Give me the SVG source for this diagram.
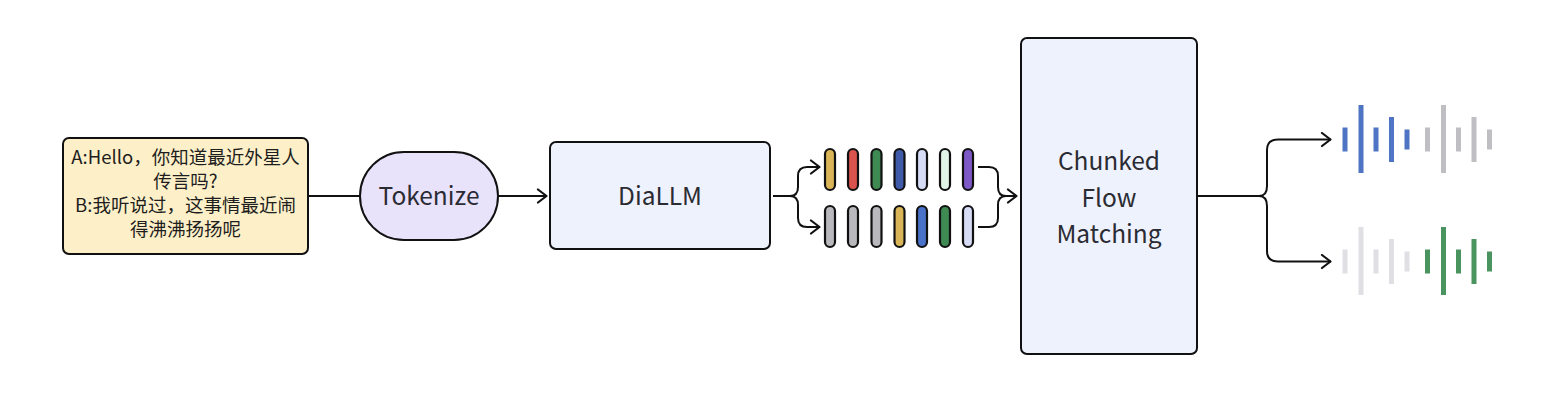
<svg xmlns="http://www.w3.org/2000/svg" width="1552" height="416" viewBox="0 0 1552 416">
<defs>
<marker id="arr" viewBox="0 0 12 16" refX="11" refY="8" markerWidth="12" markerHeight="16" markerUnits="userSpaceOnUse" orient="auto">
<path d="M2,1.5 L10.5,8 L2,14.5" fill="none" stroke="#111" stroke-width="2.2" stroke-linecap="round" stroke-linejoin="round"/>
</marker>
<style>
.node{stroke:#111;stroke-width:2}
.lbl{font-family:"Noto Sans CJK SC","Noto Sans",sans-serif;fill:#2b2b33;text-anchor:middle}
.big{font-size:24.5px}
.cn{font-size:18.5px;fill:#1e1e1e}
.conn{fill:none;stroke:#111;stroke-width:2;stroke-linejoin:round}
.tok{stroke:#111;stroke-width:2.2}
</style>
</defs>
<rect width="1552" height="416" fill="#ffffff"/>

<g id="connectors">
<path class="conn" d="M308,196 H360"/>
<path class="conn" d="M498,196 H547" marker-end="url(#arr)"/>
<path class="conn" d="M773,196 H790 Q798,196 798,187 V176 Q798,167 807,167 H820" marker-end="url(#arr)"/>
<path class="conn" d="M790,196 Q798,196 798,205 V218 Q798,227 807,227 H820" marker-end="url(#arr)"/>
<path class="conn" d="M978,167 H989 Q998,167 998,176 V187 Q998,196 1006,196 H1017" marker-end="url(#arr)"/>
<path class="conn" d="M978,227 H989 Q998,227 998,218 V205 Q998,196 1006,196"/>
<path class="conn" d="M1198,196 H1259 Q1267,196 1267,186 V150 Q1267,139.5 1278,139.5 H1331" marker-end="url(#arr)"/>
<path class="conn" d="M1259,196 Q1267,196 1267,206 V251 Q1267,261.5 1278,261.5 H1331" marker-end="url(#arr)"/>
</g>

<g id="text-input">
<rect class="node" x="63" y="138" width="245" height="116" rx="6" fill="#fdf0c8"/>
<text class="lbl cn" x="185.5" y="164">A:Hello，你知道最近外星人</text>
<text class="lbl cn" x="185.5" y="188">传言吗?</text>
<text class="lbl cn" x="185.5" y="212">B:我听说过，这事情最近闹</text>
<text class="lbl cn" x="185.5" y="236">得沸沸扬扬呢</text>
</g>

<g id="tokenize">
<rect class="node" x="360" y="152" width="138" height="88" rx="44" fill="#e8e2fb"/>
<text class="lbl big" x="429" y="205">Tokenize</text>
</g>

<g id="diallm">
<rect class="node" x="550" y="142" width="220" height="107" rx="6" fill="#eef2fc"/>
<text class="lbl big" x="660" y="205">DiaLLM</text>
</g>

<g id="tokens">
<rect class="tok" x="825" y="149" width="10" height="41" rx="5" fill="#d9b558"/>
<rect class="tok" x="848" y="149" width="10" height="41" rx="5" fill="#d9534f"/>
<rect class="tok" x="871.5" y="149" width="10" height="41" rx="5" fill="#3f8a52"/>
<rect class="tok" x="894.5" y="149" width="10" height="41" rx="5" fill="#3f5aa8"/>
<rect class="tok" x="917" y="149" width="10" height="41" rx="5" fill="#d6dbf6"/>
<rect class="tok" x="940" y="149" width="10" height="41" rx="5" fill="#e0f4e7"/>
<rect class="tok" x="963" y="149" width="10" height="41" rx="5" fill="#7d58c6"/>
<rect class="tok" x="825" y="206" width="10" height="41" rx="5" fill="#b9b9bd"/>
<rect class="tok" x="848" y="206" width="10" height="41" rx="5" fill="#b9b9bd" stroke="#808084"/>
<rect class="tok" x="871.5" y="206" width="10" height="41" rx="5" fill="#b9b9bd"/>
<rect class="tok" x="894.5" y="206" width="10" height="41" rx="5" fill="#d9b558"/>
<rect class="tok" x="917" y="206" width="10" height="41" rx="5" fill="#4a72c8"/>
<rect class="tok" x="940" y="206" width="10" height="41" rx="5" fill="#3f8a52"/>
<rect class="tok" x="963" y="206" width="10" height="41" rx="5" fill="#d6dbf6"/>
</g>

<g id="chunked-flow-matching">
<rect class="node" x="1021" y="38" width="176" height="316" rx="6" fill="#eef2fc"/>
<text class="lbl big" x="1109" y="170">Chunked</text>
<text class="lbl big" x="1109" y="206.5">Flow</text>
<text class="lbl big" x="1109" y="243">Matching</text>
</g>

<g id="wave-top">
<rect x="1342.5" y="127.5" width="5" height="24" fill="#4f74c4"/>
<rect x="1358.5" y="105" width="5" height="68" fill="#4f74c4"/>
<rect x="1373.5" y="127.5" width="5" height="24" fill="#4f74c4"/>
<rect x="1389" y="117" width="5" height="45" fill="#4f74c4"/>
<rect x="1404.5" y="129.5" width="5" height="20" fill="#4f74c4"/>
<rect x="1425" y="127.5" width="5" height="24" fill="#bfbfc3"/>
<rect x="1441" y="105" width="5" height="68" fill="#bfbfc3"/>
<rect x="1456" y="127.5" width="5" height="24" fill="#bfbfc3"/>
<rect x="1471.5" y="117" width="5" height="45" fill="#bfbfc3"/>
<rect x="1487" y="129.5" width="5" height="20" fill="#bfbfc3"/>
</g>

<g id="wave-bottom">
<rect x="1342.5" y="249.5" width="5" height="24" fill="#e0e0e4"/>
<rect x="1358.5" y="227" width="5" height="68" fill="#e0e0e4"/>
<rect x="1373.5" y="249.5" width="5" height="24" fill="#e0e0e4"/>
<rect x="1389" y="239" width="5" height="45" fill="#e0e0e4"/>
<rect x="1404.5" y="251.5" width="5" height="20" fill="#e0e0e4"/>
<rect x="1425" y="249.5" width="5" height="24" fill="#4a9460"/>
<rect x="1441" y="227" width="5" height="68" fill="#4a9460"/>
<rect x="1456" y="249.5" width="5" height="24" fill="#4a9460"/>
<rect x="1471.5" y="239" width="5" height="45" fill="#4a9460"/>
<rect x="1487" y="251.5" width="5" height="20" fill="#4a9460"/>
</g>
</svg>
